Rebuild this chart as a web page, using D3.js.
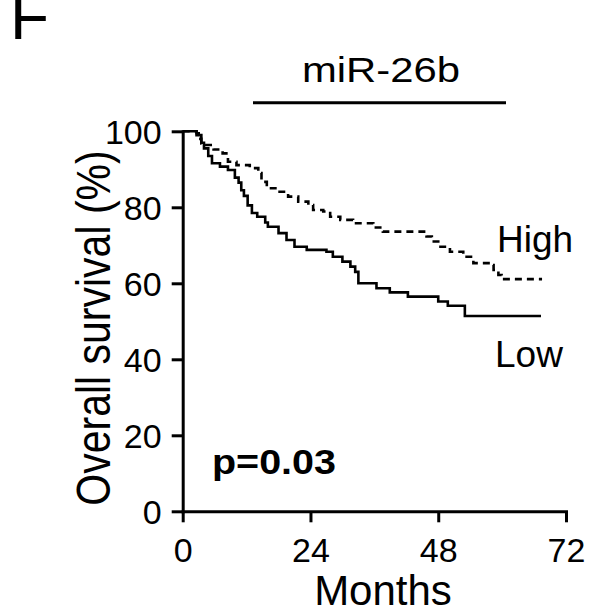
<!DOCTYPE html>
<html><head><meta charset="utf-8">
<script src="https://cdn.jsdelivr.net/npm/d3@7"></script>
<style>body{margin:0;background:#fff}svg{display:block}text{font-family:"Liberation Sans",Arial,sans-serif;fill:#000}</style>
</head><body>
<script>
const xTicks = [0, 24, 48, 72];
const yTicks = [0, 20, 40, 60, 80, 100];
const lowMonths = [0, 2.6, 3.5, 4.0, 4.8, 5.5, 7.0, 8.5, 9.8, 10.5, 11.0, 11.5, 12.2, 13.0, 14.0, 15.5, 16.0, 18.0, 19.5, 21.0, 23.3, 27.0, 28.2, 30.0, 31.5, 32.4, 33.0, 36.4, 38.9, 42.3, 48.0, 49.8, 53.0, 67.3];
const lowSurv   = [100, 99, 97, 95.5, 93.5, 91.6, 90.7, 89.8, 87.8, 86.5, 84.5, 83, 80.5, 78.5, 77.5, 76.0, 74.9, 73.2, 71.4, 69.6, 68.8, 68.3, 67, 65.7, 64.4, 63, 60, 58.7, 57.6, 56.5, 55.2, 54.1, 51.4, 51.4];
const highMonths = [0, 2.6, 3.0, 3.5, 4.2, 5.8, 7.5, 8.5, 10.1, 12.6, 14.2, 14.8, 15.8, 17.7, 19.8, 21.7, 23.6, 24.5, 26.4, 27.7, 29.6, 32.0, 35.8, 37.6, 45.8, 46.8, 48.0, 50.2, 52.7, 54.6, 57.7, 58.4, 59.3, 59.9, 67.5];
const highSurv   = [100, 99.5, 98.0, 96.8, 96.4, 95.2, 94.2, 92, 91.1, 90.3, 89, 86.7, 85, 84.1, 82.8, 81.5, 80.6, 79.3, 78.9, 77.5, 76.7, 75.8, 74.7, 73.6, 72.3, 71, 69.6, 68.3, 67, 65.3, 64.8, 63.5, 62.2, 61.1, 61.1];

const W = 593, H = 613;
const svg = d3.select("body").append("svg").attr("width", W).attr("height", H);
const x = d3.scaleLinear().domain([0, 72]).range([182.7, 566]);
const y = d3.scaleLinear().domain([0, 100]).range([511.3, 131.3]);

// panel letter (cropped at top, as in the source figure)
svg.append("text").attr("x", 10).attr("y", 39).attr("font-size", 64).text("F");

// title with bar
svg.append("text").attr("x", 302).attr("y", 81.7).attr("font-size", 35)
  .attr("textLength", 158).attr("lengthAdjust", "spacingAndGlyphs").text("miR-26b");
svg.append("line").attr("x1", 253).attr("x2", 506).attr("y1", 102.7).attr("y2", 102.7).attr("stroke", "#000").attr("stroke-width", 3);

// axes
const xAxis = d3.axisBottom(x).tickValues(xTicks).tickSize(11).tickSizeOuter(0).tickPadding(16);
const yAxis = d3.axisLeft(y).tickValues(yTicks).tickSize(11).tickSizeOuter(0).tickPadding(10);
const gx = svg.append("g").attr("transform", `translate(0,${y(0)})`).call(xAxis);
const gy = svg.append("g").attr("transform", `translate(${x(0)},0)`).call(yAxis);
[gx, gy].forEach(g => {
  g.select(".domain").attr("stroke", "#000").attr("stroke-width", 3).attr("stroke-linecap", "square");
  g.selectAll(".tick line").attr("stroke", "#000").attr("stroke-width", 3);
  g.selectAll(".tick text").attr("font-size", 34).attr("font-family", '"Liberation Sans",Arial,sans-serif').attr("fill", "#000");
});
gy.selectAll(".tick text").attr("dy", "0.36em");

// axis titles
svg.append("text").attr("x", 383).attr("y", 605).attr("text-anchor", "middle").attr("font-size", 42).text("Months");
svg.append("text").attr("transform", `translate(110,328) scale(1.15,1) rotate(-90)`).attr("text-anchor", "middle").attr("font-size", 41).text("Overall survival (%)");

// curves
const line = d3.line().x(d => x(d[0])).y(d => y(d[1])).curve(d3.curveStepAfter);
const low = lowMonths.map((m, i) => [m, lowSurv[i]]);
const high = highMonths.map((m, i) => [m, highSurv[i]]);
svg.append("path").attr("d", line(low)).attr("fill", "none").attr("stroke", "#000").attr("stroke-width", 2.6);
svg.append("path").attr("d", line(high)).attr("fill", "none").attr("stroke", "#000").attr("stroke-width", 2.6).attr("stroke-dasharray", "7,5");

// labels
svg.append("text").attr("x", 497).attr("y", 252).attr("font-size", 37).text("High");
svg.append("text").attr("x", 495).attr("y", 367).attr("font-size", 37).text("Low");
svg.append("text").attr("x", 212).attr("y", 474).attr("font-size", 34.5).attr("font-weight", "bold")
  .attr("textLength", 124).attr("lengthAdjust", "spacingAndGlyphs").text("p=0.03");
</script>
</body></html>
